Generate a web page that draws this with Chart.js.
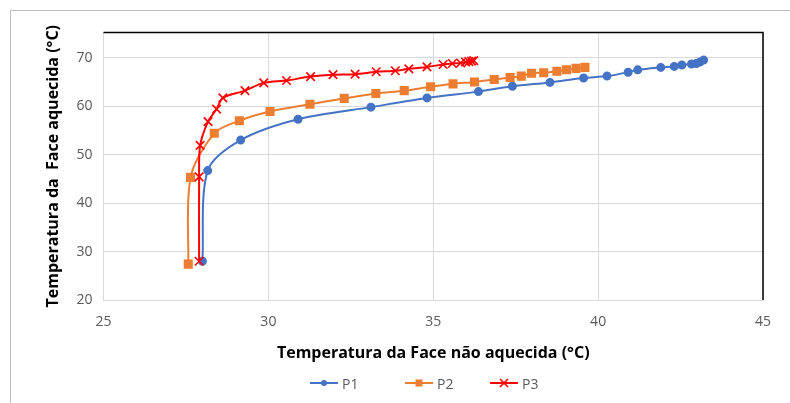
<!DOCTYPE html>
<html>
<head>
<meta charset="utf-8">
<script src="https://cdn.jsdelivr.net/npm/chart.js@4/dist/chart.umd.min.js"></script>
<style>
  body { margin: 0; background: #fff; font-family: "Open Sans", sans-serif; }
  #frame { position: absolute; left: 10px; top: 10px; width: 820px; height: 430px; border: 1px solid #bfbfbf; }
  #chart { position: absolute; left: 0; top: 0; }
  .item { position: absolute; top: 374px; height: 18px; display: flex; align-items: center; font-size: 14px; color: #595959; }
  .item span { margin-left: 4px; }
</style>
</head>
<body>
<div id="frame"></div>
<canvas id="chart" width="790" height="403"></canvas>
<div class="item" style="left:310px"><svg width="28" height="14"><line x1="0" y1="7" x2="28" y2="7" stroke="#4472C4" stroke-width="2"/><circle cx="14" cy="7" r="3" fill="#4472C4"/></svg><span>P1</span></div>
<div class="item" style="left:405px"><svg width="28" height="14"><line x1="0" y1="7" x2="28" y2="7" stroke="#ED7D31" stroke-width="2"/><rect x="10.5" y="3.5" width="7" height="7" fill="#ED7D31"/></svg><span>P2</span></div>
<div class="item" style="left:490px"><svg width="28" height="14"><line x1="0" y1="7" x2="28" y2="7" stroke="#FF0000" stroke-width="2"/><path d="M10 3 L18 11 M18 3 L10 11" stroke="#FF0000" stroke-width="1.6"/></svg><span>P3</span></div>
<script>
Chart.defaults.font.family = '"Open Sans", sans-serif';

// P1
const p1X = [28.0, 28.16, 29.16, 30.9, 33.11, 34.81, 36.37, 37.4, 38.54, 39.56, 40.27, 40.91, 41.2, 41.9, 42.31, 42.54, 42.83, 42.98, 43.09, 43.2];
const p1Y = [28.0, 46.7, 53.0, 57.3, 59.8, 61.7, 63.0, 64.1, 64.9, 65.8, 66.2, 67.0, 67.5, 68.0, 68.2, 68.5, 68.7, 68.8, 69.1, 69.5];
// P2
const p2X = [27.57, 27.64, 28.36, 29.12, 30.05, 31.26, 32.3, 33.26, 34.12, 34.92, 35.6, 36.25, 36.85, 37.33, 37.67, 37.98, 38.35, 38.75, 39.04, 39.33, 39.6];
const p2Y = [27.4, 45.3, 54.4, 57.0, 58.9, 60.4, 61.6, 62.6, 63.2, 64.0, 64.6, 65.0, 65.5, 65.9, 66.2, 66.8, 66.9, 67.2, 67.5, 67.8, 68.0];
// P3
const p3X = [27.9, 27.9, 27.93, 28.17, 28.43, 28.62, 29.29, 29.86, 30.55, 31.28, 31.96, 32.63, 33.27, 33.85, 34.26, 34.81, 35.3, 35.58, 35.83, 35.98, 36.08, 36.16, 36.23];
const p3Y = [28.0, 45.4, 51.9, 56.8, 59.4, 61.7, 63.2, 64.8, 65.3, 66.1, 66.5, 66.6, 67.1, 67.3, 67.7, 68.1, 68.6, 68.8, 68.9, 69.1, 69.2, 69.3, 69.4];

const xTicks = [25, 30, 35, 40, 45];
const yTicks = [20, 30, 40, 50, 60, 70];

const toPts = (xs, ys) => xs.map((x, i) => ({ x, y: ys[i] }));

const plotFrame = {
    id: "plotFrame",
    afterDatasetsDraw(chart) {
        const { ctx, chartArea: a } = chart;
        ctx.save();
        ctx.strokeStyle = "#000";
        ctx.lineWidth = 1.5;
        ctx.beginPath();
        ctx.moveTo(a.left, a.top);
        ctx.lineTo(a.right, a.top);
        ctx.lineTo(a.right, a.bottom);
        ctx.stroke();
        ctx.restore();
    }
};

new Chart(document.getElementById("chart"), {
    type: "scatter",
    data: {
        datasets: [
            {
                label: "P1", data: toPts(p1X, p1Y), showLine: true, order: 2,
                borderColor: "#4472C4", backgroundColor: "#4472C4", borderWidth: 2,
                pointStyle: "circle", pointRadius: 3.5, tension: 0.3
            },
            {
                label: "P2", data: toPts(p2X, p2Y), showLine: true, order: 1,
                borderColor: "#ED7D31", backgroundColor: "#ED7D31", borderWidth: 2,
                pointStyle: "rect", pointRadius: 5, tension: 0.3
            },
            {
                label: "P3", data: toPts(p3X, p3Y), showLine: true, order: 0,
                borderColor: "#FF0000", backgroundColor: "#FF0000", borderWidth: 2,
                pointStyle: "crossRot", pointRadius: 6, pointBorderWidth: 1.6, tension: 0.3
            }
        ]
    },
    options: {
        responsive: false,
        animation: false,
        layout: { padding: { left: 43.5, right: 27, top: 32.5, bottom: 33 } },
        plugins: { legend: { display: false }, tooltip: { enabled: false } },
        scales: {
            x: {
                type: "linear", min: 25, max: 45,
                afterBuildTicks: s => { s.ticks = xTicks.map(v => ({ value: v })); },
                afterFit: s => { s.height = 70; },
                ticks: { color: "#595959", font: { size: 14 }, padding: 14 },
                grid: { color: "#d9d9d9", drawTicks: false },
                border: { color: "#d9d9d9" },
                title: {
                    display: true, text: "Temperatura da Face não aquecida (°C)",
                    color: "#000", font: { size: 16, weight: "bold" }, padding: { top: 0, bottom: 7 }
                }
            },
            y: {
                type: "linear", min: 20, max: 75.2,
                afterBuildTicks: s => { s.ticks = yTicks.map(v => ({ value: v })); },
                afterFit: s => { s.width = 60; },
                ticks: { color: "#595959", font: { size: 14 }, padding: 11 },
                grid: { color: "#d9d9d9", drawTicks: false },
                border: { color: "#d9d9d9" },
                title: {
                    display: true, text: "Temperatura da  Face aquecida (°C)",
                    color: "#000", font: { size: 16, weight: "bold" }, padding: { top: 0, bottom: 0 }
                }
            }
        }
    },
    plugins: [plotFrame]
});
</script>
</body>
</html>
